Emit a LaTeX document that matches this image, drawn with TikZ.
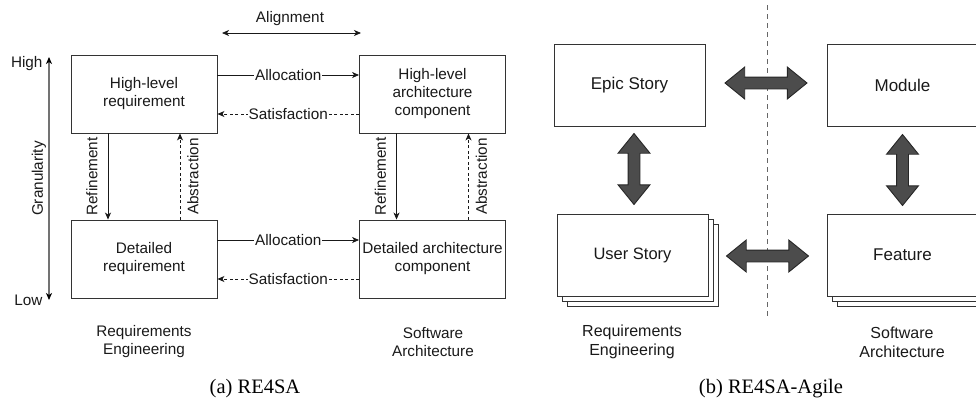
\documentclass[tikz,border=0pt]{standalone}
\usepackage{fontspec}
\setmainfont{Liberation Serif}
\setsansfont{Liberation Sans}
\usetikzlibrary{positioning,arrows.meta,shapes.arrows,shadows,calc}

\begin{document}
\begin{tikzpicture}[x=1pt, y=-1pt,
  txt/.style={font=\sffamily\fontsize{15.3}{18}\selectfont, align=center, text=black!90},
  big/.style={font=\sffamily\fontsize{#1}{19}\selectfont},
  box/.style={txt, draw=black!80, fill=white, line width=0.9pt, minimum width=#1,
              minimum height=78pt, inner sep=1pt},
  box/.default=146pt,
  card/.style={box=151pt, minimum height=82pt,
               copy shadow={shadow xshift=10pt, shadow yshift=-10pt, draw=black!80, fill=white, line width=0.9pt},
               copy shadow={shadow xshift=5pt, shadow yshift=-5pt, draw=black!80, fill=white, line width=0.9pt}},
  ar/.style={-{Stealth[length=7pt, width=6pt, inset=2pt]}, line width=0.8pt, black!90},
  dar/.style={ar, dash pattern=on 3pt off 2.5pt},
  lb/.style={txt, fill=white, inner sep=1pt},
  bigarr/.style={double arrow, draw=black!85, fill=black!70, line width=0.9pt,
                 inner xsep=0pt, inner ysep=5.5pt, double arrow head extend=10pt,
                 double arrow tip angle=78, minimum height=#1},
  capt/.style={font=\rmfamily\fontsize{20.5}{24}\selectfont},
]
\useasboundingbox (0,0) rectangle (976,410);

% (a) RE4SA
\node[box] (HR) at (144,94)  {High-level\\requirement};
\node[box] (HA) at (432.5,94)  {High-level\\architecture\\component};
\node[box] (DR) at (144,259) {Detailed\\requirement};
\node[box] (DA) at (432.5,259) {Detailed architecture\\component};

\draw[ar] ([yshift=19pt]HR.east) -- node[lb] {Allocation} ([yshift=19pt]HA.west);
\draw[dar] ([yshift=-20pt]HA.west) -- node[lb] {Satisfaction} ([yshift=-20pt]HR.east);
\draw[ar] ([yshift=19pt]DR.east) -- node[lb] {Allocation} ([yshift=19pt]DA.west);
\draw[dar] ([yshift=-20pt]DA.west) -- node[lb] {Satisfaction} ([yshift=-20pt]DR.east);

\draw[ar] ([xshift=-36pt]HR.south) -- node[txt, rotate=90, yshift=16pt] {Refinement} ([xshift=-36pt]DR.north);
\draw[dar] ([xshift=36pt]DR.north) -- node[txt, rotate=90, yshift=-13pt] {Abstraction} ([xshift=36pt]HR.south);
\draw[ar] ([xshift=-36pt]HA.south) -- node[txt, rotate=90, yshift=16pt] {Refinement} ([xshift=-36pt]DA.north);
\draw[dar] ([xshift=36pt]DA.north) -- node[txt, rotate=90, yshift=-13pt] {Abstraction} ([xshift=36pt]HA.south);

\coordinate (GT) at (49,57);
\coordinate (GB) at (49,300);
\draw[black!55, line width=1.6pt, {Stealth[length=7pt, width=6pt, inset=2pt, black]}-{Stealth[length=7pt, width=6pt, inset=2pt, black]}] (GB) -- node[txt, rotate=90, yshift=10pt] {Granularity} (GT);
\node[txt, anchor=east] (HI) at (46,64)  {High};
\node[txt, anchor=east] (LO) at (46,300) {Low};

\coordinate (AL) at (222,33);
\coordinate (AR) at (361,33);
\draw[{Stealth[length=7pt, width=6pt, inset=2pt]}-{Stealth[length=7pt, width=6pt, inset=2pt]}, line width=0.8pt, black!90] (AL) -- (AR);
\node[txt] (ALN) at (290,19) {Alignment};

\node[txt] (REa) at (144,342) {Requirements\\Engineering};
\node[txt] (SAa) at (433,342) {Software\\Architecture};
\node[capt] (CA) at (255,389) {(a) RE4SA};

% (b) RE4SA-Agile
\draw[black!60, line width=0.8pt, dash pattern=on 5pt off 4pt] (767,5) coordinate (DT) -- (767,318) coordinate (DB);

\node[box=151pt, minimum height=82pt, big=17] (EP) at (629.5,85) {Epic Story};
\node[box=151pt, minimum height=82pt, big=17] (MO) at (902.5,85) {Module};
\node[card, big=16.5] (US) at (632.5,255) {User Story};
\node[card, big=17] (FE) at (902.5,255) {Feature};

\node[bigarr=82pt] (B1) at ($(EP.east)!0.5!(MO.west)+(0,-2)$) {};
\node[bigarr=82pt] (B2) at ($(US.east)!0.5!(FE.west)+(0,1)$) {};
\node[bigarr=71pt, rotate=90] (B3) at ($(EP.south)!0.5!(US.north)+(3,-1)$) {};
\node[bigarr=71pt, rotate=90] (B4) at ($(MO.south)!0.5!(FE.north)$) {};

\node[txt, big=16] (REb) at (632,342) {Requirements\\Engineering};
\node[txt, big=16] (SAb) at (902,342) {Software\\Architecture};
\node[capt] (CB) at (771,389) {(b) RE4SA-Agile};
\end{tikzpicture}
\end{document}
